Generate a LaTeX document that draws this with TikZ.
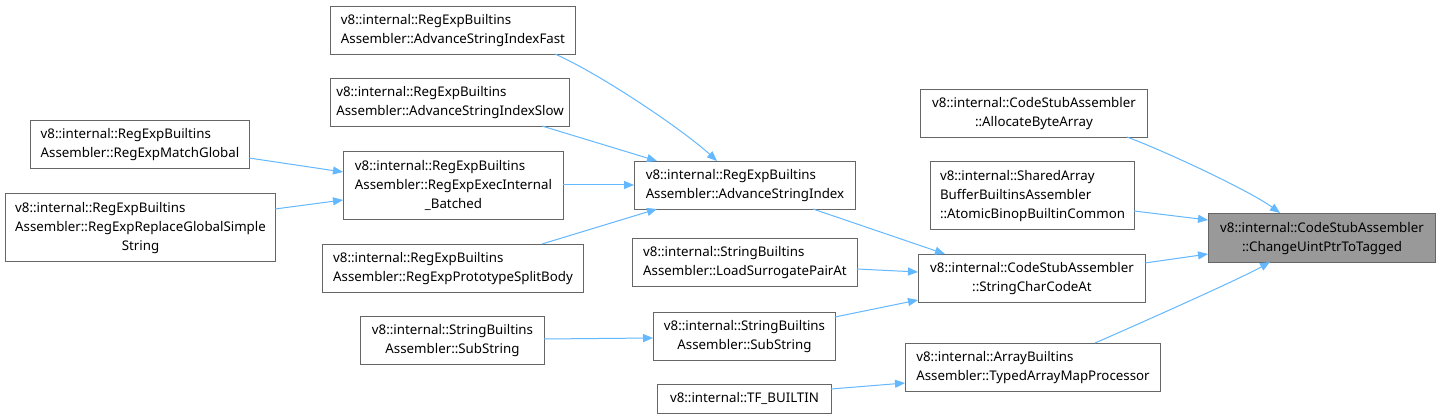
\documentclass[tikz,border=0pt]{standalone}
\usepackage{fontspec}
\setmainfont{Noto Sans}
\usetikzlibrary{arrows.meta,calc}
\definecolor{edgeblue}{HTML}{63B8FF}
\definecolor{boxborder}{HTML}{666666}
\definecolor{rootfill}{HTML}{999999}
\newcommand{\onel}[1]{\begin{tabular}{@{}c@{}}#1\end{tabular}}
\newcommand{\twol}[2]{\begin{tabular}{@{}l@{}}#1\\\multicolumn{1}{@{}c@{}}{#2}\end{tabular}}
\newcommand{\threel}[3]{\begin{tabular}{@{}l@{}}#1\\#2\\\multicolumn{1}{@{}c@{}}{#3}\end{tabular}}
\begin{document}
\begin{tikzpicture}[x=1pt,y=-1pt,
  font={\fontsize{13.3}{19}\selectfont},
  box/.style={draw=boxborder, fill=white, line width=1pt, inner sep=0pt, anchor=north west},
  rootbox/.style={box, fill=rootfill},
  edge/.style={draw=edgeblue, line width=1pt, -{Triangle[length=10pt,width=8pt]}}]
\fill[white] (0,0) rectangle (1440,419);
\useasboundingbox (0,0) rectangle (1440,419);

\node[box, minimum width=245pt, minimum height=48pt] (fast) at (330,6) {\twol{v8::internal::RegExpBuiltins}{Assembler::AdvanceStringIndexFast}};
\node[box, minimum width=239pt, minimum height=48pt] (slow) at (330,78) {\twol{v8::internal::RegExpBuiltins}{Assembler::AdvanceStringIndexSlow}};
\node[box, minimum width=219pt, minimum height=48pt] (match) at (30,120) {\twol{v8::internal::RegExpBuiltins}{Assembler::RegExpMatchGlobal}};
\node[box, minimum width=220pt, minimum height=68pt] (batched) at (343,151) {\threel{v8::internal::RegExpBuiltins}{Assembler::RegExpExecInternal}{\_Batched}};
\node[box, minimum width=270pt, minimum height=68pt] (replace) at (5,193) {\threel{v8::internal::RegExpBuiltins}{Assembler::RegExpReplaceGlobalSimple}{String}};
\node[box, minimum width=261pt, minimum height=48pt] (split) at (322,244) {\twol{v8::internal::RegExpBuiltins}{Assembler::RegExpPrototypeSplitBody}};
\node[box, minimum width=221pt, minimum height=48pt] (asi) at (634,161) {\twol{v8::internal::RegExpBuiltins}{Assembler::AdvanceStringIndex}};
\node[box, minimum width=225pt, minimum height=48pt] (loadsur) at (632,238) {\twol{v8::internal::StringBuiltins}{Assembler::LoadSurrogatePairAt}};
\node[box, minimum width=184pt, minimum height=48pt] (subl) at (360,316) {\twol{v8::internal::StringBuiltins}{Assembler::SubString}};
\node[box, minimum width=182pt, minimum height=48pt] (subm) at (653,312) {\twol{v8::internal::StringBuiltins}{Assembler::SubString}};
\node[box, minimum width=174pt, minimum height=29pt] (tf) at (657,384) {\onel{v8::internal::TF\_BUILTIN}};
\node[box, minimum width=227pt, minimum height=48pt] (alloc) at (920,89) {\twol{v8::internal::CodeStubAssembler}{::AllocateByteArray}};
\node[box, minimum width=204pt, minimum height=68pt] (atomic) at (930,161) {\threel{v8::internal::SharedArray}{BufferBuiltinsAssembler}{::AtomicBinopBuiltinCommon}};
\node[box, minimum width=227pt, minimum height=48pt] (scca) at (918,254) {\twol{v8::internal::CodeStubAssembler}{::StringCharCodeAt}};
\node[box, minimum width=255pt, minimum height=48pt] (typed) at (905,343) {\twol{v8::internal::ArrayBuiltins}{Assembler::TypedArrayMapProcessor}};
\node[rootbox, minimum width=227pt, minimum height=49pt] (change) at (1208,213) {\twol{v8::internal::CodeStubAssembler}{::ChangeUintPtrToTagged}};

\draw[edge] ($(fast.north west)+(225,48)$) .. controls +(45,20) and +(-35,-32) .. ($(asi.north west)+(83,0)$);
\draw[edge] ($(slow.north west)+(212,48)$) -- ($(asi.north west)+(23,0)$);
\draw[edge] ($(split.north west)+(220,0)$) -- ($(asi.north west)+(23,48)$);
\draw[edge] ($(match.north west)+(219,38)$) -- ($(batched.north west)+(0,21)$);
\draw[edge] ($(replace.north west)+(270,16)$) -- ($(batched.north west)+(0,49)$);
\draw[edge] ($(batched.north west)+(220,34)$) -- ($(asi.north west)+(0,24)$);
\draw[edge] ($(asi.north west)+(179,48)$) -- ($(scca.north west)+(27,0)$);
\draw[edge] ($(loadsur.north west)+(225,31)$) -- ($(scca.north west)+(0,18)$);
\draw[edge] ($(subm.north west)+(182,5)$) -- ($(scca.north west)+(0,46)$);
\draw[edge] ($(subl.north west)+(184,23)$) -- ($(subm.north west)+(0,26)$);
\draw[edge] ($(tf.north west)+(174,5)$) -- ($(typed.north west)+(0,40)$);
\draw[edge] ($(alloc.north west)+(207,48)$) .. controls +(40,15) and +(-30,-22) .. ($(change.north west)+(72,0)$);
\draw[edge] ($(atomic.north west)+(204,50)$) -- ($(change.north west)+(0,7)$);
\draw[edge] ($(scca.north west)+(227,9)$) -- ($(change.north west)+(0,41)$);
\draw[edge] ($(typed.north west)+(190,0)$) .. controls +(30,-13) and +(-30,17) .. ($(change.north west)+(62,49)$);
\end{tikzpicture}
\end{document}
